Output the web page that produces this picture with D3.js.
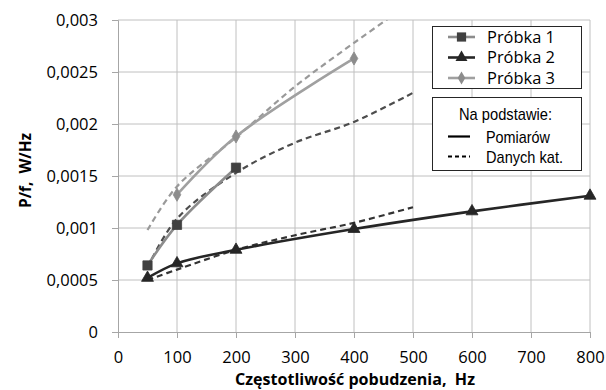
<!DOCTYPE html>
<html>
<head>
<meta charset="utf-8">
<script src="https://cdn.jsdelivr.net/npm/d3@7"></script>
<style>
  body { margin: 0; background: #fff; }
  text { font-family: "Open Sans", "Liberation Sans", sans-serif; fill: #000; white-space: pre; }
</style>
</head>
<body>
<svg id="chart"></svg>
<script>
// measured series
var p1x = [50, 100, 200];
var p1y = [0.00064, 0.00103, 0.00158];
var p2x = [50, 100, 200, 400, 600, 800];
var p2y = [0.00052, 0.00066, 0.00079, 0.00099, 0.00116, 0.00131];
var p3x = [100, 200, 400];
var p3y = [0.00132, 0.00188, 0.00263];

// catalogue-based series
var k1x = [50, 100, 200, 300, 400, 500];
var k1y = [0.00062, 0.00109, 0.00153, 0.00182, 0.00202, 0.00230];
var k2x = [50, 100, 200, 300, 400, 500];
var k2y = [0.00050, 0.00060, 0.00079, 0.00093, 0.00105, 0.00120];
var k3x = [50, 100, 200, 300, 400, 500];
var k3y = [0.00098, 0.00140, 0.00187, 0.00236, 0.00278, 0.00318];

var xTicks = [0, 100, 200, 300, 400, 500, 600, 700, 800];
var yTicks = [0, 0.0005, 0.001, 0.0015, 0.002, 0.0025, 0.003];
var yTickLabels = ["0", "0,0005", "0,001", "0,0015", "0,002", "0,0025", "0,003"];

var width = 606, height = 390;
var svg = d3.select("#chart").attr("width", width).attr("height", height);

var x = d3.scaleLinear().domain([0, 800]).range([118, 590]);
var y = d3.scaleLinear().domain([0, 0.003]).range([332, 20]);

// clip for the plot area
svg.append("clipPath").attr("id", "plot")
  .append("rect").attr("x", 118).attr("y", 20).attr("width", 472).attr("height", 312);

// grid
svg.append("g").selectAll("line").data(xTicks.slice(1)).join("line")
  .attr("x1", d => x(d)).attr("x2", d => x(d))
  .attr("y1", y(0)).attr("y2", y(0.003))
  .attr("stroke", "#c0c0c0").attr("stroke-width", 1);
svg.append("g").selectAll("line").data(yTicks.slice(1)).join("line")
  .attr("x1", x(0)).attr("x2", x(800))
  .attr("y1", d => y(d)).attr("y2", d => y(d))
  .attr("stroke", "#c0c0c0").attr("stroke-width", 1);

// axes
var xAxis = svg.append("g").attr("transform", "translate(0," + y(0) + ")")
  .call(d3.axisBottom(x).tickValues(xTicks).tickSize(6).tickFormat(d3.format("d")));
var yAxis = svg.append("g").attr("transform", "translate(" + x(0) + ",0)")
  .call(d3.axisLeft(y).tickValues(yTicks).tickSize(6).tickPadding(14).tickFormat((d, i) => yTickLabels[i]));
[xAxis, yAxis].forEach(function(a) {
  a.select(".domain").attr("stroke", "#a6a6a6");
  a.selectAll(".tick line").attr("stroke", "#a6a6a6");
  a.selectAll(".tick text").style("font-size", "16.5px").style("font-family", "'Open Sans', sans-serif").attr("fill", "#000");
});
xAxis.selectAll(".tick text").attr("y", 31).attr("dy", 0);

// axis titles
svg.append("text").attr("x", 355).attr("y", 385).attr("text-anchor", "middle")
  .attr("textLength", 240).attr("lengthAdjust", "spacingAndGlyphs")
  .style("font-size", "15.5px").style("font-weight", "bold")
  .text("Częstotliwość pobudzenia,  Hz");
svg.append("text").attr("transform", "translate(31,170.5) rotate(-90)").attr("text-anchor", "middle")
  .attr("textLength", 75).attr("lengthAdjust", "spacingAndGlyphs")
  .style("font-size", "16px").style("font-weight", "bold")
  .text("P/f,  W/Hz");

function pts(xs, ys) { return xs.map((v, i) => [v, ys[i]]); }
var line = d3.line().x(d => x(d[0])).y(d => y(d[1])).curve(d3.curveCatmullRom.alpha(0.5));

var plot = svg.append("g").attr("clip-path", "url(#plot)");

// dashed catalogue lines
var dashed = [
  { d: pts(k3x, k3y), c: "#999999" },
  { d: pts(k1x, k1y), c: "#4d4d4d" },
  { d: pts(k2x, k2y), c: "#333333" }
];
plot.selectAll(".dash").data(dashed).join("path")
  .attr("fill", "none").attr("stroke", d => d.c).attr("stroke-width", 2.2)
  .attr("stroke-dasharray", "6,4")
  .attr("d", d => line(d.d));

// measured lines
var solid = [
  { d: pts(p3x, p3y), c: "#a0a0a0", m: "#8c8c8c", sym: d3.symbolDiamond, size: 50 },
  { d: pts(p1x, p1y), c: "#8c8c8c", m: "#404040", sym: d3.symbolSquare, size: 85 },
  { d: pts(p2x, p2y), c: "#262626", m: "#262626", sym: d3.symbolTriangle, size: 62 }
];
solid.forEach(function(s) {
  plot.append("path").attr("fill", "none").attr("stroke", s.c).attr("stroke-width", 2.6)
    .attr("d", line(s.d));
  svg.append("g").selectAll("path").data(s.d).join("path")
    .attr("transform", d => "translate(" + x(d[0]) + "," + y(d[1]) + ")")
    .attr("d", d3.symbol().type(s.sym).size(s.size))
    .attr("fill", s.m).attr("stroke", s.m).attr("stroke-width", 0.8);
});

// legend 1
var lg1 = svg.append("g");
lg1.append("rect").attr("x", 432.5).attr("y", 26.5).attr("width", 149).attr("height", 62)
  .attr("fill", "#fff").attr("stroke", "#262626").attr("stroke-width", 1);
var names = ["Próbka 1", "Próbka 2", "Próbka 3"];
var legOrder = [solid[1], solid[2], solid[0]];
names.forEach(function(n, i) {
  var yy = 37 + i * 20.5;
  var s = legOrder[i];
  lg1.append("line").attr("x1", 448).attr("x2", 475).attr("y1", yy).attr("y2", yy)
    .attr("stroke", s.c).attr("stroke-width", 2.6);
  lg1.append("path").attr("transform", "translate(461.5," + yy + ")")
    .attr("d", d3.symbol().type(s.sym).size(s.size)).attr("fill", s.m);
  lg1.append("text").attr("x", 487).attr("y", yy).attr("dy", "0.36em")
    .attr("textLength", 68).attr("lengthAdjust", "spacingAndGlyphs")
    .style("font-size", "15.5px").text(n);
});

// legend 2
var lg2 = svg.append("g");
lg2.append("rect").attr("x", 432.5).attr("y", 97.5).attr("width", 149).attr("height", 73)
  .attr("fill", "#fff").attr("stroke", "#262626").attr("stroke-width", 1);
lg2.append("text").attr("x", 505.5).attr("y", 120).attr("text-anchor", "middle")
  .attr("textLength", 93).attr("lengthAdjust", "spacingAndGlyphs")
  .style("font-family", "'Liberation Sans', sans-serif").style("font-size", "17px")
  .text("Na podstawie:");
var lt = [{ t: "Pomiarów", w: 64, dash: null }, { t: "Danych kat.", w: 77, dash: "4,3" }];
lt.forEach(function(d, i) {
  var yy = 136.5 + i * 20;
  lg2.append("line").attr("x1", 448).attr("x2", 470).attr("y1", yy).attr("y2", yy)
    .attr("stroke", "#000").attr("stroke-width", 2.2).attr("stroke-dasharray", d.dash);
  lg2.append("text").attr("x", 486).attr("y", yy + 6.5)
    .attr("textLength", d.w).attr("lengthAdjust", "spacingAndGlyphs")
    .style("font-family", "'Liberation Sans', sans-serif").style("font-size", "17px")
    .text(d.t);
});
</script>
</body>
</html>
